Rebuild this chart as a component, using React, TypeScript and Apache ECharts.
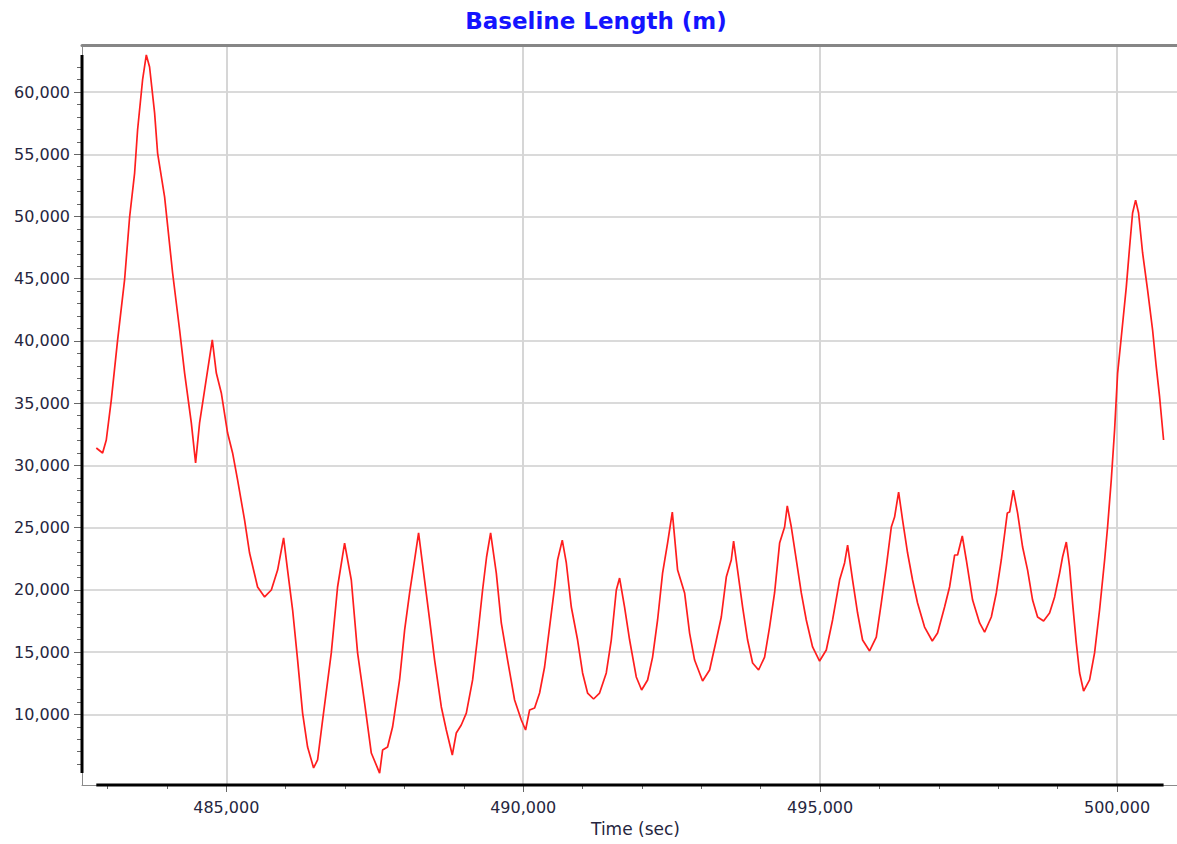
import React, { useEffect, useRef } from "react";
import * as echarts from "echarts";

// ---- data ----
const timeSec: number[] = [
  482811, 482917, 482979, 483063, 483170, 483287, 483372, 483456, 483506, 483590,
  483653, 483708, 483793, 483843, 483961, 484096, 484214, 484298, 484411, 484483,
  484550, 484635, 484764, 484832, 484916, 485022, 485106, 485190, 485308, 485392,
  485527, 485645, 485758, 485864, 485965, 486032, 486117, 486201, 486285, 486369,
  486470, 486537, 486622, 486768, 486874, 486992, 487105, 487211, 487329, 487442,
  487582, 487632, 487716, 487800, 487918, 488003, 488087, 488171, 488238, 488339,
  488424, 488508, 488621, 488705, 488806, 488873, 488957, 489042, 489148, 489232,
  489316, 489383, 489451, 489547, 489631, 489737, 489855, 489968, 490040, 490108,
  490192, 490276, 490360, 490444, 490529, 490579, 490658, 490726, 490810, 490916,
  491000, 491084, 491185, 491286, 491399, 491483, 491568, 491623, 491707, 491792,
  491904, 491994, 492095, 492179, 492263, 492347, 492431, 492511, 492600, 492718,
  492802, 492886, 493021, 493139, 493252, 493336, 493420, 493504, 493543, 493610,
  493695, 493779, 493863, 493964, 494065, 494149, 494233, 494318, 494402, 494447,
  494515, 494599, 494683, 494767, 494873, 494991, 495104, 495210, 495328, 495412,
  495463, 495547, 495631, 495715, 495833, 495946, 496030, 496114, 496199, 496254,
  496322, 496389, 496473, 496557, 496641, 496759, 496889, 496978, 497096, 497180,
  497265, 497315, 497394, 497462, 497568, 497686, 497770, 497883, 497967, 498051,
  498152, 498191, 498253, 498326, 498410, 498494, 498578, 498662, 498763, 498864,
  498949, 499033, 499083, 499146, 499201, 499252, 499314, 499370, 499437, 499538,
  499622, 499706, 499791, 499841, 499903, 499959, 500010, 500072, 500156, 500212,
  500262, 500313, 500363, 500431, 500515, 500599, 500661, 500717, 500784,
];

const baselineLength: number[] = [
  31400, 31000, 32040, 35250, 40080, 44900, 49960, 53490, 56950, 60970,
  62980, 62010, 58310, 55100, 51570, 45460, 40880, 37420, 33410, 30200,
  33410, 36060, 40080, 37420, 35820, 32600, 31000, 28830, 25610, 22960,
  20230, 19430, 19990, 21590, 24170, 21590, 18380, 14360, 10100, 7370,
  5690, 6330, 9540, 14930, 20230, 23760, 20790, 14930, 10910, 6890,
  5280, 7130, 7370, 8980, 12760, 16770, 19750, 22400, 24570, 20790,
  17580, 14360, 10590, 8740, 6730, 8500, 9140, 10100, 12760, 16210,
  19990, 22640, 24570, 21350, 17340, 14360, 11150, 9540, 8740, 10350,
  10510, 11710, 13800, 17010, 20230, 22400, 24000, 22160, 18620, 15970,
  13320, 11710, 11230, 11710, 13320, 15970, 19990, 20950, 18620, 15970,
  13000, 11950, 12760, 14600, 17580, 21350, 23760, 26250, 21590, 19750,
  16530, 14360, 12680, 13560, 15970, 17820, 21030, 22400, 23920, 21590,
  18620, 15970, 14120, 13560, 14600, 17010, 19750, 23760, 25050, 26740,
  25050, 22400, 19750, 17580, 15410, 14280, 15170, 17580, 20790, 22160,
  23600, 20790, 18140, 15970, 15090, 16210, 18940, 21840, 25050, 25850,
  27860, 25610, 22960, 20790, 18940, 17010, 15890, 16530, 18620, 20230,
  22800, 22800, 24330, 22400, 19180, 17340, 16610, 17820, 19750, 22400,
  26170, 26250, 28020, 26170, 23440, 21590, 19180, 17820, 17500, 18140,
  19430, 21350, 22640, 23840, 21840, 18940, 15730, 13320, 11870, 12760,
  14930, 18380, 22400, 25050, 28830, 32840, 37420, 40320, 44330, 47550,
  50280, 51320, 50280, 47070, 44090, 40880, 37910, 35500, 32040,
];

const xMajorTicks: number[] = [485000, 490000, 495000, 500000];
const yMajorTicks: number[] = [10000, 15000, 20000, 25000, 30000, 35000, 40000, 45000, 50000, 55000, 60000];
const X_MIN = 482570;
const X_MAX = 501010;
const Y_MIN = 4320;
const Y_MAX = 63780;
const MINOR_STEP = 1000;

const TITLE = "Baseline Length (m)";
const X_NAME = "Time (sec)";

function minorTicks(lo: number, hi: number): number[] {
  const out: number[] = [];
  for (let v = Math.ceil(lo / MINOR_STEP) * MINOR_STEP; v <= hi; v += MINOR_STEP) out.push(v);
  return out;
}

const fmt = (v: number) => Math.round(v).toLocaleString("en-US");

export default function App() {
  const ref = useRef<HTMLDivElement>(null);

  useEffect(() => {
    if (!ref.current) return;
    const chart = echarts.init(ref.current, undefined, { renderer: "svg" });

    const points = timeSec.map((t, i) => [t, baselineLength[i]]);
    const tMin = Math.min(...timeSec);
    const tMax = Math.max(...timeSec);
    const vMin = Math.min(...baselineLength);
    const vMax = Math.max(...baselineLength);
    const xMinor = minorTicks(tMin, tMax);
    const yMinor = minorTicks(vMin, vMax);

    const labelColor = "#262640";
    const font = "DejaVu Sans";

    chart.setOption({
      animation: false,
      backgroundColor: "#ffffff",
      graphic: [
        {
          type: "text",
          x: 596,
          y: 21,
          style: {
            text: TITLE,
            fill: "#1414ff",
            font: "bold 23px 'DejaVu Sans'",
            textAlign: "center",
            textVerticalAlign: "middle",
          },
        },
      ],
      grid: {
        left: 82,
        right: 0,
        top: 45,
        bottom: 59,
        containLabel: false,
        outerBoundsMode: "none",
      },
      xAxis: [
        {
          type: "value",
          min: X_MIN,
          max: X_MAX,
          position: "bottom",
          name: X_NAME,
          nameLocation: "middle",
          nameGap: 35,
          nameTextStyle: { fontFamily: font, fontSize: 17, color: labelColor, padding: [0, 0, 0, 12] },
          axisLine: { show: true, lineStyle: { color: "#8a8a8a", width: 1 } },
          axisTick: { show: true, customValues: xMajorTicks, length: 7, lineStyle: { color: "#666", width: 1 } },
          axisLabel: {
            customValues: xMajorTicks,
            formatter: fmt,
            fontFamily: font,
            fontSize: 16,
            color: labelColor,
            margin: 14,
          },
          splitLine: { show: true, lineStyle: { color: "#d6d6d6", width: 2 } },
        },
        {
          type: "value",
          min: X_MIN,
          max: X_MAX,
          position: "bottom",
          axisLine: { show: false },
          axisTick: { show: true, customValues: xMinor, length: 4, lineStyle: { color: "#666", width: 1 } },
          axisLabel: { show: false },
          splitLine: { show: false },
        },
        {
          type: "value",
          min: X_MIN,
          max: X_MAX,
          position: "top",
          axisLine: { show: true, lineStyle: { color: "#868686", width: 3 } },
          axisTick: { show: false },
          axisLabel: { show: false },
          splitLine: { show: false },
        },
      ],
      yAxis: [
        {
          type: "value",
          min: Y_MIN,
          max: Y_MAX,
          position: "left",
          axisLine: { show: true, lineStyle: { color: "#8a8a8a", width: 1 } },
          axisTick: { show: true, customValues: yMajorTicks, length: 8, lineStyle: { color: "#666", width: 1 } },
          axisLabel: {
            customValues: yMajorTicks,
            formatter: fmt,
            fontFamily: font,
            fontSize: 16,
            color: labelColor,
            margin: 12,
          },
          splitLine: { show: true, lineStyle: { color: "#dadada", width: 2 } },
        },
        {
          type: "value",
          min: Y_MIN,
          max: Y_MAX,
          position: "left",
          axisLine: { show: false },
          axisTick: { show: true, customValues: yMinor, length: 5, lineStyle: { color: "#666", width: 1 } },
          axisLabel: { show: false },
          splitLine: { show: false },
        },
      ],
      series: [
        {
          name: "Baseline Length",
          type: "line",
          xAxisIndex: 0,
          yAxisIndex: 0,
          data: points,
          showSymbol: false,
          symbol: "none",
          lineStyle: { color: "#ff1e1e", width: 1.7 },
          silent: true,
          z: 5,
        },
        {
          name: "yAxisExtent",
          type: "line",
          xAxisIndex: 0,
          yAxisIndex: 0,
          data: [
            [X_MIN, vMin],
            [X_MIN, vMax],
          ],
          symbol: "none",
          clip: false,
          silent: true,
          lineStyle: { color: "#000", width: 3 },
          z: 6,
        },
        {
          name: "xAxisExtent",
          type: "line",
          xAxisIndex: 0,
          yAxisIndex: 0,
          data: [
            [tMin, Y_MIN],
            [tMax, Y_MIN],
          ],
          symbol: "none",
          clip: false,
          silent: true,
          lineStyle: { color: "#000", width: 3 },
          z: 6,
        },
      ],
    });

    return () => chart.dispose();
  }, []);

  return (
    <div
      ref={ref}
      style={{ position: "absolute", left: 0, top: 0, width: 1177, height: 844, background: "#fff" }}
    />
  );
}
